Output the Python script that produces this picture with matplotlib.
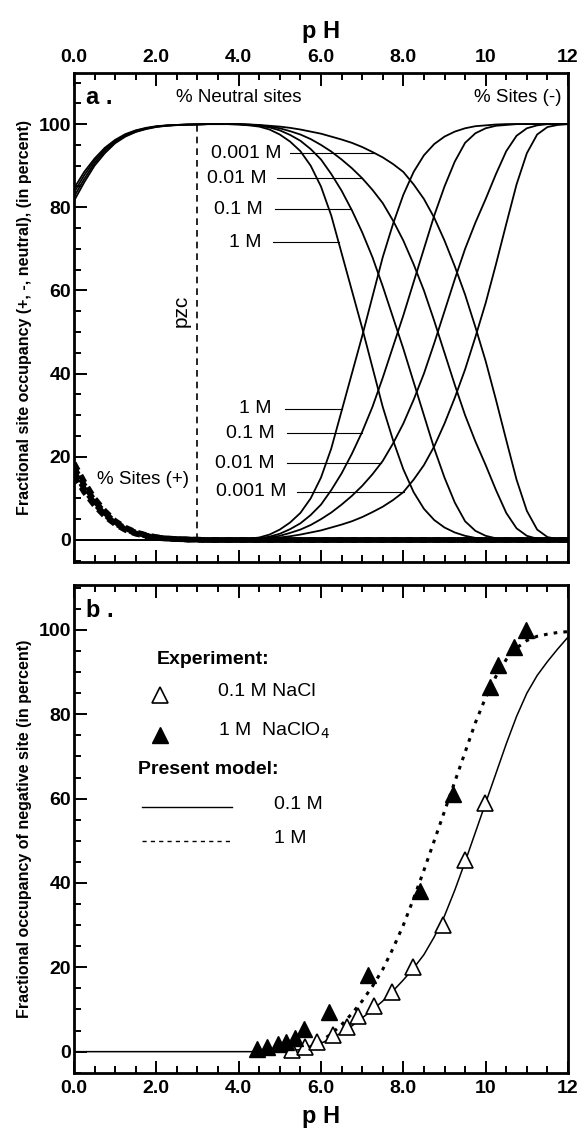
import matplotlib
matplotlib.use("Agg")
import matplotlib.pyplot as plt
import numpy as np
from matplotlib.ticker import MultipleLocator

plt.rcParams["font.family"] = ["Liberation Sans", "DejaVu Sans"]

# panel (a): site speciation vs pH for four ionic strengths (0.25 pH steps)
ph_a = [0.0, 0.25, 0.5, 0.75, 1.0, 1.25, 1.5, 1.75, 2.0, 2.25, 2.5, 2.75,
        3.0, 3.25, 3.5, 3.75, 4.0, 4.25, 4.5, 4.75, 5.0, 5.25, 5.5, 5.75,
        6.0, 6.25, 6.5, 6.75, 7.0, 7.25, 7.5, 7.75, 8.0, 8.25, 8.5, 8.75,
        9.0, 9.25, 9.5, 9.75, 10.0, 10.25, 10.5, 10.75, 11.0, 11.25, 11.5, 11.75, 12.0]
ionic = ["1 M", "0.1 M", "0.01 M", "0.001 M"]

# % sites (+)
pos_1m = [18.5, 14.0, 10.0, 7.0, 4.6, 3.0, 1.9, 1.2, 0.7, 0.4, 0.25, 0.15,
          0.1, 0, 0, 0, 0, 0, 0, 0, 0, 0, 0, 0, 0, 0, 0, 0, 0, 0, 0, 0,
          0, 0, 0, 0, 0, 0, 0, 0, 0, 0, 0, 0, 0, 0, 0, 0, 0]
pos_01m = [17.5, 13.2, 9.4, 6.5, 4.3, 2.8, 1.8, 1.1, 0.6, 0.35, 0.2, 0.12,
           0.08, 0, 0, 0, 0, 0, 0, 0, 0, 0, 0, 0, 0, 0, 0, 0, 0, 0, 0, 0,
           0, 0, 0, 0, 0, 0, 0, 0, 0, 0, 0, 0, 0, 0, 0, 0, 0]
pos_001m = [16.5, 12.3, 8.8, 6.1, 4.0, 2.6, 1.6, 1.0, 0.6, 0.35, 0.2, 0.1,
            0.05, 0, 0, 0, 0, 0, 0, 0, 0, 0, 0, 0, 0, 0, 0, 0, 0, 0, 0, 0,
            0, 0, 0, 0, 0, 0, 0, 0, 0, 0, 0, 0, 0, 0, 0, 0, 0]
pos_0001m = [15.5, 11.5, 8.3, 5.7, 3.8, 2.4, 1.5, 0.9, 0.5, 0.3, 0.2, 0.1,
             0.05, 0, 0, 0, 0, 0, 0, 0, 0, 0, 0, 0, 0, 0, 0, 0, 0, 0, 0, 0,
             0, 0, 0, 0, 0, 0, 0, 0, 0, 0, 0, 0, 0, 0, 0, 0, 0]

# % sites (-)
neg_1m = [0, 0, 0, 0, 0, 0, 0, 0, 0, 0, 0, 0, 0, 0, 0, 0,
          0.1, 0.3, 0.6, 1.3, 2.5, 4.2, 6.5, 10.0, 15.0, 22.0, 31.0, 40.0,
          49.0, 58.5, 68.0, 76.0, 83.0, 88.5, 92.5, 95.2, 97.0, 98.2, 99.0, 99.5,
          99.7, 99.9, 100, 100, 100, 100, 100, 100, 100]
neg_01m = [0, 0, 0, 0, 0, 0, 0, 0, 0, 0, 0, 0, 0, 0, 0, 0,
           0.05, 0.2, 0.4, 0.8, 1.5, 2.6, 4.0, 6.0, 8.5, 12.0, 16.0, 20.7,
           26.0, 32.0, 39.0, 46.5, 54.0, 62.0, 70.0, 78.0, 85.0, 91.0, 95.5, 97.8,
           99.0, 99.6, 99.8, 100, 100, 100, 100, 100, 100]
neg_001m = [0, 0, 0, 0, 0, 0, 0, 0, 0, 0, 0, 0, 0, 0, 0, 0,
            0, 0.1, 0.3, 0.6, 1.0, 1.7, 2.5, 3.6, 5.0, 6.6, 8.5, 10.6,
            13.0, 15.8, 19.0, 23.2, 28.0, 33.7, 40.0, 47.3, 55.0, 62.7, 70.0, 76.3,
            82.0, 88.0, 93.5, 97.2, 99.0, 99.7, 100, 100, 100]
neg_0001m = [0, 0, 0, 0, 0, 0, 0, 0, 0, 0, 0, 0, 0, 0, 0, 0,
             0, 0.1, 0.2, 0.4, 0.6, 0.9, 1.3, 1.8, 2.3, 3.0, 3.7, 4.5,
             5.5, 6.7, 8.0, 9.6, 11.5, 14.5, 18.0, 22.5, 28.0, 34.2, 41.0, 48.8,
             57.0, 66.3, 76.0, 85.5, 93.0, 97.5, 99.3, 99.8, 100]

# % neutral sites
neu_1m = [81.5, 86.0, 90.0, 93.0, 95.4, 97.0, 98.1, 98.8, 99.3, 99.6, 99.75, 99.85,
          99.9, 100, 100, 100, 99.9, 99.7, 99.4, 98.7, 97.5, 95.8, 93.5, 90.0,
          85.0, 78.0, 69.0, 60.0, 51.0, 41.5, 32.0, 24.0, 17.0, 11.5, 7.5, 4.8,
          3.0, 1.8, 1.0, 0.5, 0.3, 0.1, 0, 0, 0, 0, 0, 0, 0]
neu_01m = [82.5, 86.8, 90.6, 93.5, 95.7, 97.2, 98.2, 98.9, 99.4, 99.65, 99.8, 99.88,
           99.92, 100, 100, 100, 99.95, 99.8, 99.6, 99.2, 98.5, 97.4, 96.0, 94.0,
           91.5, 88.0, 84.0, 79.3, 74.0, 68.0, 61.0, 53.5, 46.0, 38.0, 30.0, 22.0,
           15.0, 9.0, 4.5, 2.2, 1.0, 0.4, 0.2, 0, 0, 0, 0, 0, 0]
neu_001m = [83.5, 87.7, 91.2, 93.9, 96.0, 97.4, 98.4, 99.0, 99.4, 99.65, 99.8, 99.9,
            99.95, 100, 100, 100, 100, 99.9, 99.7, 99.4, 99.0, 98.3, 97.5, 96.4,
            95.0, 93.4, 91.5, 89.4, 87.0, 84.2, 81.0, 76.8, 72.0, 66.3, 60.0, 52.7,
            45.0, 37.3, 30.0, 23.7, 18.0, 12.0, 6.5, 2.8, 1.0, 0.3, 0, 0, 0]
neu_0001m = [84.5, 88.5, 91.7, 94.3, 96.2, 97.6, 98.5, 99.1, 99.5, 99.7, 99.8, 99.9,
             99.95, 100, 100, 100, 100, 99.9, 99.8, 99.6, 99.4, 99.1, 98.7, 98.2,
             97.7, 97.0, 96.3, 95.5, 94.5, 93.3, 92.0, 90.4, 88.5, 85.5, 82.0, 77.5,
             72.0, 65.8, 59.0, 51.2, 43.0, 33.7, 24.0, 14.5, 7.0, 2.5, 0.7, 0.2, 0]

pzc = 3.0
# call-out heights (percent) for the concentration labels, order as `ionic`
neu_label_y = [71.6, 79.5, 87.0, 93.0]
neg_label_y = [31.5, 25.7, 18.5, 11.6]

# panel (b): measured negative-site occupancy and model curves
ph_nacl = [5.3, 5.6, 5.9, 6.29, 6.63, 6.9, 7.28, 7.72, 8.23, 8.96, 9.49, 9.98]
occ_nacl = [0.5, 1.2, 2.4, 4.0, 5.9, 8.5, 10.9, 14.2, 20.0, 30.0, 45.5, 59.0]
ph_naclo4 = [4.44, 4.68, 4.95, 5.15, 5.36, 5.58, 6.19, 7.14, 8.4, 9.2, 10.1, 10.29, 10.68, 10.99]
occ_naclo4 = [0.7, 1.2, 1.7, 2.4, 3.3, 5.4, 9.5, 18.2, 38.0, 61.0, 86.5, 91.7, 96.0, 100.0]

ph_model_01 = [0.0, 1.0, 2.0, 3.0, 4.0, 4.5, 5.0, 5.25, 5.5, 5.75, 6.0, 6.25, 6.5,
               6.75, 7.0, 7.25, 7.5, 7.75, 8.0, 8.25, 8.5, 8.75, 9.0, 9.25, 9.5,
               9.75, 10.0, 10.25, 10.5, 10.75, 11.0, 11.25, 11.5, 11.75, 12.0]
model_01 = [0, 0, 0, 0, 0, 0, 0, 0.2, 0.5, 1.1, 2.0, 3.1, 4.5,
            6.1, 8.0, 9.9, 12.0, 14.4, 17.0, 19.8, 23.0, 27.2, 32.2, 38.3, 45.0,
            52.0, 59.0, 66.0, 73.0, 79.5, 85.0, 89.2, 92.5, 95.5, 98.3]
ph_model_1 = [5.5, 5.75, 6.0, 6.25, 6.5, 6.75, 7.0, 7.25, 7.5, 7.75, 8.0, 8.25, 8.5,
              8.75, 9.0, 9.25, 9.5, 9.75, 10.0, 10.25, 10.5, 10.75, 11.0, 11.25,
              11.5, 11.75, 12.0]
model_1 = [0.3, 1.2, 2.5, 4.2, 6.4, 9.0, 12.0, 15.5, 19.5, 24.5, 30.0, 36.3, 43.0,
           50.0, 57.0, 64.0, 71.0, 78.0, 84.0, 89.0, 93.0, 95.7, 97.5, 98.5,
           99.0, 99.4, 99.6]

xticks = [0, 2, 4, 6, 8, 10, 12]
xticklabels = ["0.0", "2.0", "4.0", "6.0", "8.0", "10", "12"]


def style_axes(ax, top_labels):
    ax.set_xlim(0, 12)
    ax.set_xticks(xticks)
    ax.xaxis.set_minor_locator(MultipleLocator(0.5))
    ax.set_yticks([0, 20, 40, 60, 80, 100])
    ax.yaxis.set_minor_locator(MultipleLocator(5))
    ax.tick_params(which="both", direction="in", top=True, bottom=True,
                   left=True, right=False, width=1.4)
    ax.tick_params(which="major", length=9)
    ax.tick_params(which="minor", length=5)
    ax.tick_params(axis="y", labelsize=14, pad=2)
    ax.tick_params(axis="x", labelsize=14, labeltop=top_labels,
                   labelbottom=not top_labels, pad=5)
    ax.set_xticklabels(xticklabels, fontweight="bold")
    for lab in ax.get_yticklabels():
        lab.set_fontweight("bold")
    for sp in ax.spines.values():
        sp.set_linewidth(2)


fig = plt.figure(figsize=(5.82, 11.4), dpi=100)
ax_a = fig.add_axes([0.127, 0.507, 0.849, 0.429])
ax_b = fig.add_axes([0.127, 0.059, 0.849, 0.428])

# ---- panel a ----
pos_curves = [pos_1m, pos_01m, pos_001m, pos_0001m]
neg_curves = [neg_1m, neg_01m, neg_001m, neg_0001m]
neu_curves = [neu_1m, neu_01m, neu_001m, neu_0001m]

for neu, neg in zip(neu_curves, neg_curves):
    ax_a.plot(ph_a, neu, color="black", lw=1.3)
    ax_a.plot(ph_a, neg, color="black", lw=1.3)
for pos in pos_curves:
    ax_a.plot(ph_a, pos, color="black", lw=4.0, linestyle=(0, (1.5, 1.0)))

ax_a.plot([pzc, pzc], [0, 100], color="black", lw=1.2, linestyle=(0, (4, 3)))

# leaders run from each label to the point where its curve has that height
neu_text_x = [4.56, 4.59, 4.68, 5.05]
neu_line_x = [4.83, 4.88, 4.93, 5.25]
for lab, y, neu, tx, lx in zip(ionic, neu_label_y, neu_curves, neu_text_x, neu_line_x):
    x_end = np.interp(-y, [-v for v in neu[16:]], ph_a[16:])
    ax_a.plot([lx, x_end], [y, y], color="black", lw=0.8)
    ax_a.text(tx, y, lab, ha="right", va="center", fontsize=14)
neg_text_x = [4.8, 4.88, 4.88, 5.17]
neg_line_x = [5.12, 5.17, 5.17, 5.41]
for lab, y, neg, tx, lx in zip(ionic, neg_label_y, neg_curves, neg_text_x, neg_line_x):
    x_end = np.interp(y, neg[16:], ph_a[16:])
    ax_a.plot([lx, x_end], [y, y], color="black", lw=0.8)
    ax_a.text(tx, y, lab, ha="right", va="center", fontsize=14)

ax_a.text(0.3, 106.5, "a .", fontsize=17, fontweight="bold", va="center")
ax_a.text(4.0, 106.5, "% Neutral sites", fontsize=13.5, ha="center", va="center")
ax_a.text(11.85, 106.5, "% Sites (-)", fontsize=13.5, ha="right", va="center")
ax_a.text(0.55, 14.5, "% Sites (+)", fontsize=13.5, ha="left", va="center")
ax_a.text(2.6, 55, "pzc", fontsize=15, rotation=90, ha="center", va="center")

ax_a.set_ylim(-5.3, 112.3)
style_axes(ax_a, top_labels=True)
ax_a.set_xlabel("p H", fontsize=17, fontweight="bold", labelpad=8)
ax_a.xaxis.set_label_position("top")
ax_a.set_ylabel("Fractional site occupancy (+, -, neutral), (in percent)",
                fontsize=11.5, fontweight="bold", labelpad=5)

# ---- panel b ----
ax_b.plot(ph_model_01, model_01, color="black", lw=1.1)
ax_b.plot(ph_model_1, model_1, color="black", lw=2.2, linestyle=(0, (1.2, 2.0)))
ax_b.plot(ph_nacl, occ_nacl, linestyle="none", marker="^", markersize=11,
          markerfacecolor="white", markeredgecolor="black", markeredgewidth=1.2)
ax_b.plot(ph_naclo4, occ_naclo4, linestyle="none", marker="^", markersize=11,
          color="black")

ax_b.text(0.3, 104.5, "b .", fontsize=17, fontweight="bold", va="center")
ax_b.text(2.0, 93, "Experiment:", fontsize=14, fontweight="bold", va="center")
ax_b.plot([2.1], [84.5], marker="^", markersize=11, markerfacecolor="white",
          markeredgecolor="black", markeredgewidth=1.2, linestyle="none")
ax_b.text(3.5, 85.5, "0.1 M NaCl", fontsize=14, va="center")
ax_b.plot([2.1], [75], marker="^", markersize=11, color="black", linestyle="none")
ax_b.text(3.5, 76, "1 M  NaClO$_4$", fontsize=14, va="center")
ax_b.text(1.55, 67, "Present model:", fontsize=14, fontweight="bold", va="center")
ax_b.plot([1.65, 3.85], [58, 58], color="black", lw=1.0)
ax_b.text(4.85, 58.5, "0.1 M", fontsize=14, va="center")
ax_b.plot([1.65, 3.85], [50, 50], color="black", lw=1.0, linestyle=(0, (3, 3)))
ax_b.text(4.85, 50.5, "1 M", fontsize=14, va="center")

ax_b.set_ylim(-5, 110.7)
style_axes(ax_b, top_labels=False)
ax_b.set_xlabel("p H", fontsize=17, fontweight="bold", labelpad=6)
ax_b.set_ylabel("Fractional occupancy of negative site (in percent)",
                fontsize=11.5, fontweight="bold", labelpad=5)

fig.savefig("out.png", dpi=100)
